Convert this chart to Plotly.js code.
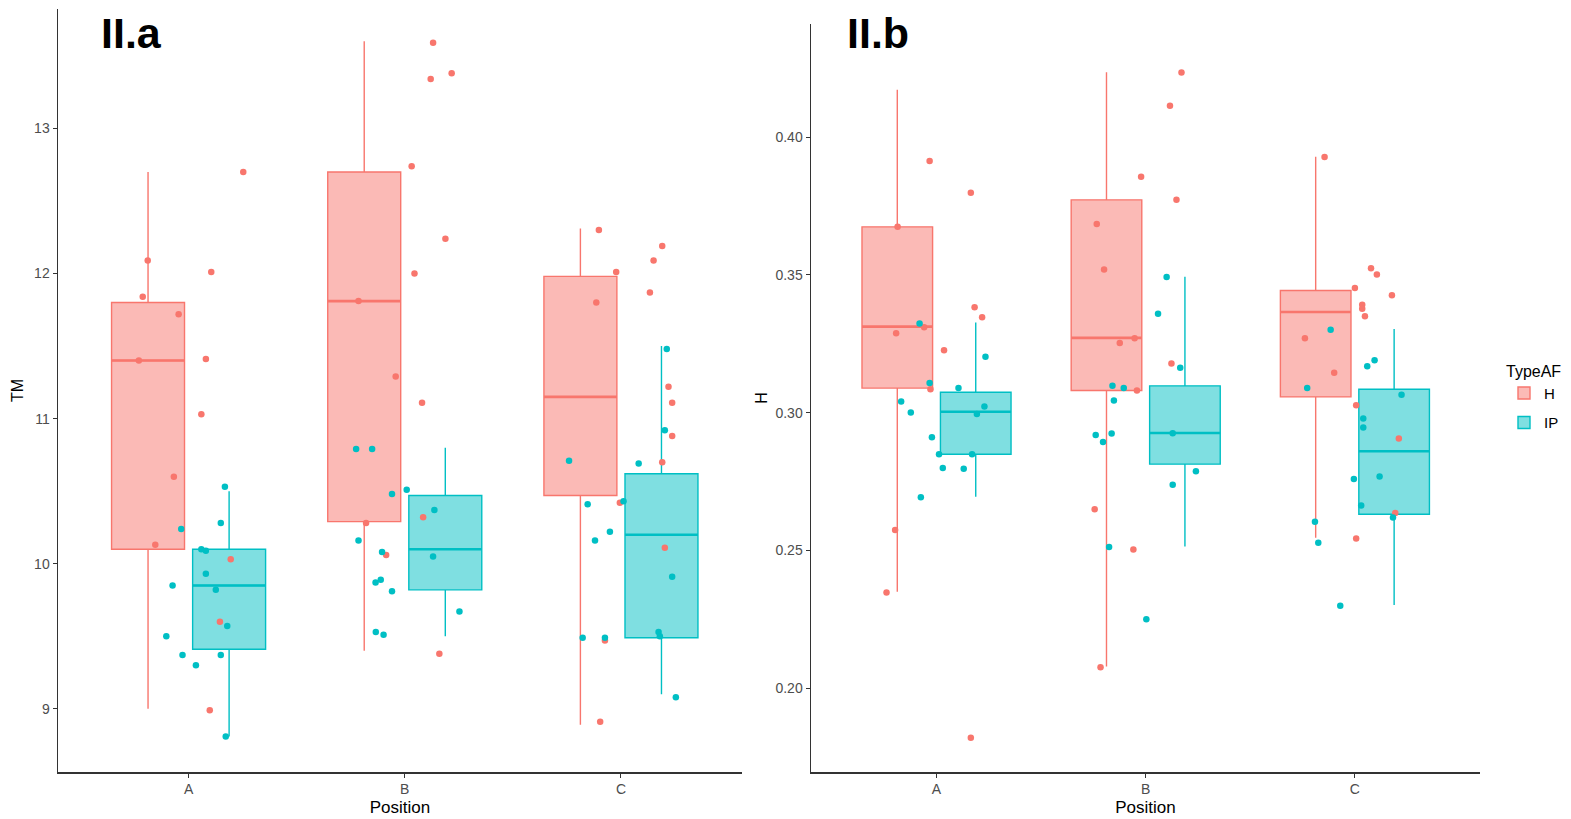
<!DOCTYPE html>
<html>
<head>
<meta charset="utf-8">
<script src="https://cdn.plot.ly/plotly-3.0.1.min.js"></script>
<style>html,body{margin:0;padding:0;background:#fff;}#chart{width:1571px;height:819px;}</style>
</head>
<body>
<div id="chart"></div>
<script>
// ---------- DATA ----------
const categories = ['A', 'B', 'C'];
const groups = ['H', 'IP'];

// Panel II.a : TM box statistics (per category A,B,C)
const tmH_lower  = [9.00, 9.40, 8.89];
const tmH_q1     = [10.10, 10.29, 10.47];
const tmH_median = [11.40, 11.81, 11.15];
const tmH_q3     = [11.80, 12.70, 11.98];
const tmH_upper  = [12.70, 13.60, 12.31];

const tmIP_lower  = [8.81, 9.50, 9.10];
const tmIP_q1     = [9.41, 9.82, 9.49];
const tmIP_median = [9.85, 10.10, 10.20];
const tmIP_q3     = [10.10, 10.47, 10.62];
const tmIP_upper  = [10.50, 10.80, 11.50];

// Panel II.a : TM observations (values and horizontal jitter, per category)
const tmH_values = [
  [12.70, 12.09, 12.01, 11.84, 11.72, 11.41, 11.40, 11.03, 10.60, 10.13, 10.03, 9.60, 8.99],
  [13.59, 13.38, 13.34, 12.74, 12.24, 12.00, 11.81, 11.29, 11.11, 10.32, 10.28, 10.06, 9.38],
  [12.30, 12.19, 12.09, 12.01, 11.87, 11.80, 11.22, 11.11, 10.88, 10.70, 10.42, 10.11, 9.47, 8.91]
];
const tmH_jitter = [
  [0.253, -0.189, 0.105, -0.212, -0.046, 0.08, -0.23, 0.059, -0.068, -0.154, 0.195, 0.145, 0.098],
  [0.131, 0.217, 0.12, 0.032, 0.188, 0.045, -0.214, -0.042, 0.08, 0.085, -0.179, -0.086, 0.16],
  [-0.102, 0.191, 0.151, -0.022, 0.134, -0.114, 0.22, 0.237, 0.237, 0.191, -0.005, 0.203, -0.074, -0.096]
];
const tmIP_values = [
  [10.53, 10.28, 10.24, 10.10, 10.09, 9.93, 9.85, 9.82, 9.57, 9.50, 9.37, 9.37, 9.30, 8.81],
  [10.79, 10.79, 10.48, 10.51, 10.37, 10.16, 10.08, 10.05, 9.87, 9.89, 9.81, 9.67, 9.53, 9.51],
  [11.48, 10.92, 10.71, 10.69, 10.43, 10.41, 10.16, 10.22, 9.91, 9.49, 9.49, 9.53, 9.50, 9.08]
];
const tmIP_jitter = [
  [0.168, 0.149, -0.034, 0.059, 0.08, 0.08, -0.074, 0.126, 0.179, -0.103, -0.028, 0.149, 0.034, 0.172],
  [-0.225, -0.151, -0.059, 0.009, 0.137, -0.214, -0.105, 0.131, -0.135, -0.111, -0.059, 0.253, -0.134, -0.098],
  [0.212, 0.203, -0.24, 0.082, 0.012, -0.154, -0.12, -0.051, 0.237, -0.177, -0.074, 0.174, 0.18, 0.254]
];

// Panel II.b : H box statistics
const hH_lower  = [0.2350, 0.2079, 0.2546];
const hH_q1     = [0.3089, 0.3080, 0.3057];
const hH_median = [0.3312, 0.3271, 0.3365];
const hH_q3     = [0.3674, 0.3772, 0.3443];
const hH_upper  = [0.4171, 0.4235, 0.3928];

const hIP_lower  = [0.2695, 0.2514, 0.2302];
const hIP_q1     = [0.2849, 0.2813, 0.2631];
const hIP_median = [0.3003, 0.2926, 0.2860];
const hIP_q3     = [0.3074, 0.3097, 0.3085];
const hIP_upper  = [0.3327, 0.3493, 0.3303];

// Panel II.b : H observations
const hH_values = [
  [0.3913, 0.3798, 0.3674, 0.3382, 0.3346, 0.3310, 0.3288, 0.3226, 0.3085, 0.2574, 0.2347, 0.1820],
  [0.4234, 0.4113, 0.3856, 0.3772, 0.3684, 0.3519, 0.3270, 0.3253, 0.3178, 0.3080, 0.2649, 0.2503, 0.2076],
  [0.3927, 0.3524, 0.3501, 0.3452, 0.3426, 0.3391, 0.3377, 0.3350, 0.3270, 0.3145, 0.3027, 0.2906, 0.2636, 0.2543]
];
const hH_jitter = [
  [-0.033, 0.164, -0.186, 0.182, 0.218, -0.059, -0.193, 0.036, -0.029, -0.198, -0.239, 0.164],
  [0.171, 0.116, -0.022, 0.147, -0.234, -0.199, -0.053, -0.124, 0.123, -0.042, -0.244, -0.059, -0.216],
  [-0.145, 0.077, 0.105, 0, 0.177, 0.035, 0.035, 0.048, -0.239, -0.099, 0.006, 0.210, 0.193, 0.006]
];
const hIP_values = [
  [0.3323, 0.3203, 0.3107, 0.3089, 0.3040, 0.3022, 0.3000, 0.2995, 0.2911, 0.2849, 0.2849, 0.2799, 0.2796, 0.2693],
  [0.3492, 0.3359, 0.3163, 0.3097, 0.3089, 0.3044, 0.2925, 0.2924, 0.2919, 0.2893, 0.2787, 0.2738, 0.2512, 0.2250],
  [0.3301, 0.3190, 0.3168, 0.3089, 0.3065, 0.2979, 0.2946, 0.2768, 0.2759, 0.2663, 0.2619, 0.2604, 0.2528, 0.2299]
];
const hIP_jitter = [
  [-0.081, 0.234, -0.033, 0.105, -0.169, 0.229, -0.123, 0.193, -0.022, 0.012, 0.170, 0.030, 0.13, -0.075],
  [0.100, 0.059, 0.165, -0.159, -0.105, -0.152, 0.129, -0.163, -0.239, -0.204, 0.24, 0.129, -0.175, 0.003],
  [-0.116, 0.094, 0.059, -0.228, 0.223, 0.04, 0.04, 0.118, -0.005, 0.03, 0.182, -0.191, -0.175, -0.07]
];

// ---------- STYLE ----------
const COL = {H: '#F8766D', IP: '#00BFC4'};
const FILL = {H: 'rgba(248,118,109,0.5)', IP: 'rgba(0,191,196,0.5)'};
const DODGE = {H: -0.1875, IP: 0.1875};
const BOXW = 0.3375;
const FONT = 'Liberation Sans, Arial, sans-serif';

const catIdx = categories.map((c, i) => i + 1);

function boxTrace(g, lower, q1, med, q3, upper, xa, ya, showlegend) {
  return {
    type: 'box', name: g, legendgroup: g, showlegend: showlegend,
    x: catIdx.map(i => i + DODGE[g]),
    lowerfence: lower, q1: q1, median: med, q3: q3, upperfence: upper,
    width: BOXW, whiskerwidth: 0,
    fillcolor: FILL[g], line: {color: COL[g], width: 1.4},
    boxpoints: false, hoverinfo: 'skip',
    xaxis: xa, yaxis: ya
  };
}
// thicker median bar (ggplot's fattened median), built from the median arrays
function medianTrace(g, med, xa, ya) {
  const x = [], y = [];
  med.forEach((m, i) => {
    const c = catIdx[i] + DODGE[g];
    x.push(c - BOXW / 2, c + BOXW / 2, null);
    y.push(m, m, null);
  });
  return {
    type: 'scatter', mode: 'lines', showlegend: false, x: x, y: y,
    line: {color: COL[g], width: 2.6}, xaxis: xa, yaxis: ya, hoverinfo: 'skip'
  };
}
function pointTrace(g, vals, jit, xa, ya) {
  const x = [], y = [];
  vals.forEach((arr, ci) => arr.forEach((v, k) => { x.push(catIdx[ci] + jit[ci][k]); y.push(v); }));
  return {
    type: 'scatter', mode: 'markers', name: g, legendgroup: g, showlegend: false,
    x: x, y: y, marker: {color: COL[g], size: 6.5},
    xaxis: xa, yaxis: ya, hoverinfo: 'skip'
  };
}

const traces = [
  boxTrace('H', tmH_lower, tmH_q1, tmH_median, tmH_q3, tmH_upper, 'x', 'y', true),
  boxTrace('IP', tmIP_lower, tmIP_q1, tmIP_median, tmIP_q3, tmIP_upper, 'x', 'y', true),
  boxTrace('H', hH_lower, hH_q1, hH_median, hH_q3, hH_upper, 'x2', 'y2', false),
  boxTrace('IP', hIP_lower, hIP_q1, hIP_median, hIP_q3, hIP_upper, 'x2', 'y2', false),
  medianTrace('H', tmH_median, 'x', 'y'),
  medianTrace('IP', tmIP_median, 'x', 'y'),
  medianTrace('H', hH_median, 'x2', 'y2'),
  medianTrace('IP', hIP_median, 'x2', 'y2'),
  pointTrace('H', tmH_values, tmH_jitter, 'x', 'y'),
  pointTrace('IP', tmIP_values, tmIP_jitter, 'x', 'y'),
  pointTrace('H', hH_values, hH_jitter, 'x2', 'y2'),
  pointTrace('IP', hIP_values, hIP_jitter, 'x2', 'y2')
];

const W = 1571, Hh = 819;
const axisCommon = {
  showgrid: false, zeroline: false, showline: true, linecolor: '#333333', linewidth: 1.5,
  ticks: 'outside', ticklen: 4, tickwidth: 1, tickcolor: '#333333',
  tickfont: {family: FONT, size: 14, color: '#4D4D4D'}
};
const xCommon = Object.assign({}, axisCommon, {
  tickmode: 'array', tickvals: catIdx, ticktext: categories,
  title: {text: 'Position', font: {family: FONT, size: 17, color: '#000'}, standoff: 5}
});

const layout = {
  width: W, height: Hh,
  margin: {l: 0, r: 0, t: 0, b: 0},
  paper_bgcolor: '#fff', plot_bgcolor: '#fff',
  boxmode: 'overlay',
  showlegend: true,
  xaxis: Object.assign({}, xCommon, {domain: [58 / W, 742 / W], range: [0.396, 3.56], anchor: 'y'}),
  yaxis: Object.assign({}, axisCommon, {
    domain: [(Hh - 772) / Hh, (Hh - 9) / Hh], range: [8.5645, 13.823], anchor: 'x',
    tickvals: [9, 10, 11, 12, 13],
    title: {text: 'TM', font: {family: FONT, size: 16, color: '#000'}, standoff: 6}
  }),
  xaxis2: Object.assign({}, xCommon, {domain: [811 / W, 1480 / W], range: [0.4, 3.598], anchor: 'y2'}),
  yaxis2: Object.assign({}, axisCommon, {
    domain: [(Hh - 772) / Hh, (Hh - 24) / Hh], range: [0.1696, 0.441], anchor: 'x2',
    tickvals: [0.20, 0.25, 0.30, 0.35, 0.40], tickformat: '.2f',
    title: {text: 'H', font: {family: FONT, size: 16, color: '#000'}, standoff: 4}
  }),
  legend: {
    x: 1504 / W, xanchor: 'left', y: (Hh - 356) / Hh, yanchor: 'top',
    title: {text: 'TypeAF', font: {family: FONT, size: 16, color: '#000'}},
    font: {family: FONT, size: 15, color: '#000'},
    bgcolor: 'rgba(0,0,0,0)', itemwidth: 30, tracegroupgap: 7
  },
  annotations: [
    {text: '<b>II.a</b>', xref: 'paper', yref: 'paper', x: 131 / W, y: (Hh - 33) / Hh,
     xanchor: 'center', yanchor: 'middle', showarrow: false,
     font: {family: FONT, size: 43, color: '#000'}},
    {text: '<b>II.b</b>', xref: 'paper', yref: 'paper', x: 878 / W, y: (Hh - 33) / Hh,
     xanchor: 'center', yanchor: 'middle', showarrow: false,
     font: {family: FONT, size: 43, color: '#000'}}
  ]
};

Plotly.newPlot('chart', traces, layout, {staticPlot: true, displayModeBar: false});
</script>
</body>
</html>
